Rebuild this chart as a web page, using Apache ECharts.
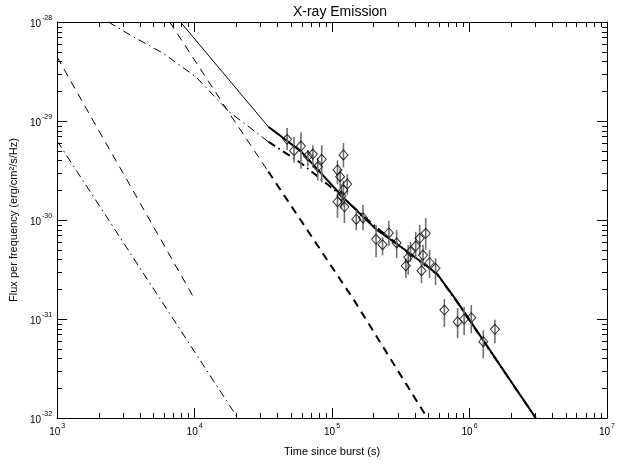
<!DOCTYPE html>
<html>
<head>
<meta charset="utf-8">
<script src="https://cdn.jsdelivr.net/npm/echarts@6/dist/echarts.min.js"></script>
<style>
  html, body { margin: 0; padding: 0; background: #fff; }
  #chart { width: 618px; height: 464px; }
</style>
</head>
<body>
<div id="chart"></div>
<script>
// Observed X-ray afterglow: time (s), flux density and error-bar limits (erg/cm^2/s/Hz)
const obsTime = [4.71e4, 5.29e4, 5.94e4, 6.67e4, 7.25e4, 8.41e4, 7.87e4, 1.21e5, 1.095e5, 1.145e5,
  1.29e5, 1.21e5, 1.17e5, 1.095e5, 1.23e5, 1.50e5, 1.68e5, 2.09e5, 2.33e5, 2.59e5,
  2.95e5, 3.44e5, 3.58e5, 3.72e5, 4.06e5, 4.34e5, 4.80e5, 4.59e5, 4.47e5, 5.12e5,
  5.66e5, 6.56e5, 8.19e5, 9.14e5, 1.03e6, 1.26e6, 1.53e6];
const obsFlux = [6.53e-30, 5.01e-30, 5.59e-30, 4.43e-30, 4.64e-30, 4.10e-30, 3.45e-30, 4.54e-30, 3.20e-30, 2.74e-30,
  2.31e-30, 2.01e-30, 1.75e-30, 1.53e-30, 1.36e-30, 1.02e-30, 1.05e-30, 6.38e-31, 5.63e-31, 7.40e-31,
  5.86e-31, 3.45e-31, 4.20e-31, 4.79e-31, 5.46e-31, 6.53e-31, 7.34e-31, 4.43e-31, 3.08e-31, 3.70e-31,
  3.25e-31, 1.23e-31, 9.40e-32, 1.00e-31, 1.03e-31, 5.90e-32, 7.87e-32];
const obsFluxHi = [8.5e-30, 6.9e-30, 7.7e-30, 5.1e-30, 5.7e-30, 5.7e-30, 4.2e-30, 6.0e-30, 4.0e-30, 3.3e-30,
  2.9e-30, 2.5e-30, 2.3e-30, 1.9e-30, 1.7e-30, 1.26e-30, 1.42e-30, 8.9e-31, 6.7e-31, 9.8e-31,
  7.9e-31, 4.1e-31, 5.6e-31, 6.0e-31, 7.6e-31, 8.9e-31, 1.05e-30, 5.6e-31, 4.1e-31, 5.0e-31,
  4.1e-31, 1.59e-31, 1.29e-31, 1.32e-31, 1.38e-31, 7.7e-32, 9.8e-32];
const obsFluxLo = [5.1e-30, 3.8e-30, 3.3e-30, 3.5e-30, 3.4e-30, 2.4e-30, 2.5e-30, 3.4e-30, 2.3e-30, 2.1e-30,
  1.8e-30, 1.4e-30, 1.3e-30, 1.05e-30, 9.3e-31, 7.9e-31, 7.9e-31, 4.2e-31, 4.4e-31, 5.5e-31,
  4.1e-31, 2.6e-31, 2.8e-31, 3.8e-31, 4.1e-31, 4.4e-31, 5.0e-31, 3.5e-31, 2.3e-31, 2.6e-31,
  2.2e-31, 8.3e-32, 6.4e-32, 6.9e-32, 7.2e-32, 4.0e-32, 5.7e-32];

// Model light curves (early part drawn thin, part spanning the observations drawn thick)
const totalTime = [7.90e3, 1.78e4, 3.44e4, 5.97e4, 1.22e5, 2.12e5, 3.68e5, 5.82e5, 7.97e5, 3.03e6];
const totalFlux = [1e-28, 2.60e-29, 8.75e-30, 4.90e-30, 1.66e-30, 7.92e-31, 4.61e-31, 2.85e-31, 1.56e-31, 1e-32];

const forwardTime = [2.36e3, 3.40e3, 5.90e3, 1.02e4, 1.78e4, 3.44e4, 5.97e4, 1.04e5, 2.12e5, 3.68e5, 5.82e5, 7.97e5, 3.03e6];
const forwardFlux = [1e-28, 7.39e-29, 4.83e-29, 2.80e-29, 1.24e-29, 6.18e-30, 3.74e-30, 2.01e-30, 8.3e-31, 4.55e-31, 2.82e-31, 1.54e-31, 1e-32];

const reverseTime = [6.59e3, 1.78e4, 3.44e4, 1.44e5, 4.93e5];
const reverseFlux = [1e-28, 1.21e-29, 3.08e-30, 1.56e-31, 1e-32];

const earlyDashTime = [1e3, 1.905e3, 3.22e3, 1e4];
const earlyDashFlux = [4.42e-29, 9.1e-30, 2.54e-30, 1.59e-31];

const earlyDotTime = [1e3, 2.06e4];
const earlyDotFlux = [6.28e-30, 1e-32];

const THICK_FROM = 3.44e4; // start of the bold part of the model curves

// Axis ranges and decade ticks
const xMin = 1e3, xMax = 1e7;
const yMin = 1e-32, yMax = 1e-28;
const xDecades = [1e3, 1e4, 1e5, 1e6];
const yDecades = [1e-32, 1e-31, 1e-30, 1e-29];
const minorMultipliers = [2, 3, 4, 5, 6, 7, 8, 9];

// Flux values are plotted in units of 1e-32 so the log scale keeps full precision
const FLUX_UNIT_EXP = -32;
const FLUX_UNIT = 1e-32;
const fu = v => v / FLUX_UNIT;

const FONT = '"Liberation Sans", Arial, Helvetica, sans-serif';

function pairs(xs, ys) { return xs.map((x, i) => [x, fu(ys[i])]); }
function early(xs, ys) { return pairs(xs, ys).filter(p => p[0] <= THICK_FROM); }
function late(xs, ys) { return pairs(xs, ys).filter(p => p[0] >= THICK_FROM); }

const xMinor = [];
xDecades.forEach(d => minorMultipliers.forEach(m => xMinor.push([d * m])));
const yMinor = [];
yDecades.forEach(d => minorMultipliers.forEach(m => yMinor.push([fu(d * m)])));

function xLabel(v) {
  return '{b|10}{s|' + Math.round(Math.log10(v)) + '}';
}
function yLabel(v) {
  return '{b|10}{s|' + (Math.round(Math.log10(v)) + FLUX_UNIT_EXP) + '}';
}
const labelRich = {
  b: { fontSize: 10, fontFamily: FONT, color: '#000', lineHeight: 14, verticalAlign: 'bottom' },
  s: { fontSize: 7, fontFamily: FONT, color: '#000', lineHeight: 14, verticalAlign: 'top', padding: [0, 0, 0, 1] }
};

const frameLine = { show: true, onZero: false, lineStyle: { color: '#000', width: 1 } };
const majorTick = { show: true, inside: true, length: 10, lineStyle: { color: '#000', width: 1 } };
const MINOR_LEN = 5;

const DASH = [8, 6];
const DASH_DOT = [8, 4, 1.5, 4];

const chart = echarts.init(document.getElementById('chart'), null, { renderer: 'canvas' });

function curve(name, data, width, type) {
  return {
    name: name, type: 'line', data: data, showSymbol: false, clip: true, z: 2,
    lineStyle: { color: '#000', width: width, type: type }
  };
}

chart.setOption({
  animation: false,
  backgroundColor: '#fff',
  title: {
    text: 'X-ray Emission',
    left: 335, top: 0, textAlign: 'center',
    textStyle: { fontFamily: FONT, fontSize: 14, fontWeight: 'normal', color: '#000' }
  },
  grid: { left: 56, right: 5, top: 22, bottom: 46 },
  xAxis: [
    {
      type: 'log', logBase: 10, min: xMin, max: xMax, position: 'bottom',
      axisLine: frameLine, axisTick: majorTick, splitLine: { show: false },
      axisLabel: { formatter: xLabel, rich: labelRich, margin: 5, showMaxLabel: true, showMinLabel: true },
      name: 'Time since burst (s)', nameLocation: 'middle', nameGap: 28,
      nameTextStyle: { fontFamily: FONT, fontSize: 11, color: '#000' }
    },
    {
      type: 'log', logBase: 10, min: xMin, max: xMax, position: 'top',
      axisLine: frameLine, axisTick: majorTick, splitLine: { show: false },
      axisLabel: { show: false }
    }
  ],
  yAxis: [
    {
      type: 'log', logBase: 10, min: fu(yMin), max: fu(yMax), position: 'left',
      axisLine: frameLine, axisTick: majorTick, splitLine: { show: false },
      axisLabel: { formatter: yLabel, rich: labelRich, margin: 5, showMaxLabel: true, showMinLabel: true },
      name: 'Flux per frequency (erg/cm\u00b2/s/Hz)', nameLocation: 'middle', nameGap: 37,
      nameTextStyle: { fontFamily: FONT, fontSize: 11, color: '#000' }
    },
    {
      type: 'log', logBase: 10, min: fu(yMin), max: fu(yMax), position: 'right',
      axisLine: frameLine, axisTick: majorTick, splitLine: { show: false },
      axisLabel: { show: false }
    }
  ],
  series: [
    {
      // minor ticks on the time axes (bottom and top)
      type: 'custom', silent: true, z: 5,
      data: xMinor,
      renderItem: function (params, api) {
        const cs = params.coordSys;
        const p = api.coord([api.value(0), fu(yMin)]);
        const x = Math.round(p[0]) + 0.5;
        const bottom = cs.y + cs.height, top = cs.y;
        return {
          type: 'group', children: [
            { type: 'line', shape: { x1: x, y1: bottom, x2: x, y2: bottom - MINOR_LEN }, style: { stroke: '#000', lineWidth: 1 } },
            { type: 'line', shape: { x1: x, y1: top, x2: x, y2: top + MINOR_LEN }, style: { stroke: '#000', lineWidth: 1 } }
          ]
        };
      }
    },
    {
      // minor ticks on the flux axes (left and right)
      type: 'custom', silent: true, z: 5,
      data: yMinor,
      renderItem: function (params, api) {
        const cs = params.coordSys;
        const p = api.coord([xMin, api.value(0)]);
        const y = Math.round(p[1]) + 0.5;
        const left = cs.x, right = cs.x + cs.width;
        return {
          type: 'group', children: [
            { type: 'line', shape: { x1: left, y1: y, x2: left + MINOR_LEN, y2: y }, style: { stroke: '#000', lineWidth: 1 } },
            { type: 'line', shape: { x1: right, y1: y, x2: right - MINOR_LEN, y2: y }, style: { stroke: '#000', lineWidth: 1 } }
          ]
        };
      }
    },
    curve('early dashed', pairs(earlyDashTime, earlyDashFlux), 1, DASH),
    curve('early dash-dot', pairs(earlyDotTime, earlyDotFlux), 1, DASH_DOT),
    curve('reverse shock', early(reverseTime, reverseFlux), 1, DASH),
    curve('reverse shock', late(reverseTime, reverseFlux), 2, DASH),
    curve('forward shock', early(forwardTime, forwardFlux), 1, DASH_DOT),
    curve('forward shock', late(forwardTime, forwardFlux), 2, DASH_DOT),
    curve('total', early(totalTime, totalFlux), 1, 'solid'),
    curve('total', late(totalTime, totalFlux), 2, 'solid'),
    {
      // error bars
      type: 'custom', z: 3,
      data: obsTime.map((t, i) => [t, fu(obsFluxLo[i]), fu(obsFluxHi[i])]),
      renderItem: function (params, api) {
        const lo = api.coord([api.value(0), api.value(1)]);
        const hi = api.coord([api.value(0), api.value(2)]);
        return {
          type: 'line',
          shape: { x1: lo[0], y1: lo[1], x2: hi[0], y2: hi[1] },
          style: { stroke: '#707070', lineWidth: 1.6 }
        };
      }
    },
    {
      name: 'data', type: 'scatter', z: 4,
      data: pairs(obsTime, obsFlux),
      symbol: 'diamond', symbolSize: [9, 10],
      itemStyle: { color: 'rgba(255,255,255,0)', borderColor: '#000', borderWidth: 1 }
    }
  ]
});
</script>
</body>
</html>
